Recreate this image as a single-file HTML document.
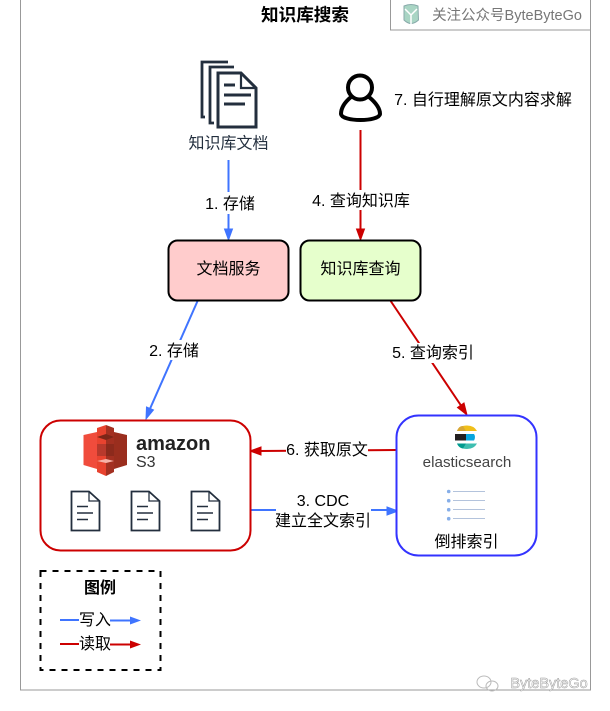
<!DOCTYPE html>
<html><head><meta charset="utf-8"><style>
html,body{margin:0;padding:0;background:#fff;width:610px;height:711px;overflow:hidden}
svg{display:block}
text{font-family:"Liberation Sans","Noto Sans CJK SC",sans-serif;font-size:16px;fill:#000;text-anchor:middle}
</style></head><body>
<svg width="610" height="711" viewBox="0 0 610 711" xmlns="http://www.w3.org/2000/svg">
<rect x="20.5" y="-2" width="570" height="692" fill="#fff" stroke="#999" stroke-width="1"/>
<rect x="390.5" y="-2" width="200" height="32" fill="#fff" stroke="#999" stroke-width="1"/>
<text x="305" y="21" style="font-size:17.6px;font-weight:bold">知识库搜索</text>
<text x="507" y="20" style="font-size:14.5px;fill:#777">关注公众号ByteByteGo</text>
<g>
<path d="M404 6 Q411 3 418 6 L418.500 20 Q411 27 404 20Z" fill="#a9d5c4" stroke="#8aa" stroke-width="1"/>
<path d="M405 9 L411 15 L417 9 M411 15 V24" fill="none" stroke="#fff" stroke-width="1.500"/>
</g>

<!-- doc stack icon -->
<g fill="none" stroke="#232f3e" stroke-width="2.800">
<path d="M228 62 H202 V117 H205"/>
<path d="M234 67 H210 V123 H214"/>
<path d="M218 73 H241 L256 88 V127 H218Z" stroke-width="3"/>
<path d="M241 73 V88 H256" stroke-width="2.200"/>
<path d="M224 85 H235 M224 95 H251 M224 104 H245" stroke-width="3"/>
</g>
<text x="228.500" y="148.500" style="fill:#232f3e">知识库文档</text>

<!-- person -->
<g fill="none" stroke="#000" stroke-width="4">
<circle cx="360" cy="87.500" r="12"/>
<path d="M351 97 C345 102 341 108 341 114 C342 122 379 122 380 114 C380 108 375 102 369 97"/>
</g>
<text x="483" y="105" style="font-size:16px">7. 自行理解原文内容求解</text>

<!-- connectors -->
<g fill="none" stroke-width="2">
<path d="M228.500 160 V230" stroke="#3f74ff"/>
<path d="M360.500 130 V230" stroke="#cc0000"/>
<path d="M198 300 L149 411" stroke="#3f74ff"/>
<path d="M390 300 L462 407" stroke="#cc0000"/>
<path d="M396 450 L259 451" stroke="#cc0000"/>
<path d="M250 510 H388" stroke="#3f74ff"/>
</g>
<path d="M228.500 240 L224.500 229 H232.500Z" fill="#3f74ff" stroke="#3f74ff"/>
<path d="M360.500 240 L356.500 229 H364.500Z" fill="#cc0000" stroke="#cc0000"/>
<path d="M146 419 L146.500 407 L153.500 410Z" fill="#3f74ff" stroke="#3f74ff"/>
<path d="M467 415 L457.500 407.500 L464 403Z" fill="#cc0000" stroke="#cc0000"/>
<path d="M250 451 L261 447 V455Z" fill="#cc0000" stroke="#cc0000"/>
<path d="M398 511 L387 507 V515Z" fill="#3f74ff" stroke="#3f74ff"/>

<!-- boxes -->
<rect x="168.500" y="240.500" width="120" height="60" rx="9" fill="#ffcccc" stroke="#000" stroke-width="2"/>
<text x="228.500" y="274">文档服务</text>
<rect x="300.500" y="240.500" width="120" height="60" rx="9" fill="#e6ffcc" stroke="#000" stroke-width="2"/>
<text x="360.500" y="274">知识库查询</text>

<rect x="40.500" y="420.500" width="210" height="130" rx="20" fill="#fff" stroke="#cc0000" stroke-width="2"/>
<rect x="396.500" y="415.500" width="140" height="140" rx="22" fill="#fff" stroke="#3333ff" stroke-width="2"/>

<!-- S3 logo -->
<g>
<path d="M83.500 435 L97 432 V469 L83.500 465Z" fill="#f04c3c"/>
<path d="M127 435 L114 432 V469 L127 465Z" fill="#9a2e1e"/>
<path d="M97 428 L106 425 V476 L97 472Z" fill="#e8432f"/>
<path d="M114 428 L106 425 V476 L114 472Z" fill="#a33021"/>
<path d="M97 444 H106 V456 H97Z" fill="#b8392c"/>
<path d="M106 444 H114 V456 H106Z" fill="#8c2a1c"/>
<path d="M97 461 L106 463 L114 461 L106 459Z" fill="#f7b3a8"/>
<path d="M97 437 L106 434 L114 437 L106 440Z" fill="#7c2618"/>
</g>
<text x="136" y="450" style="font-size:20px;font-weight:bold;fill:#222;text-anchor:start">amazon</text>
<text x="136" y="467" style="font-size:16px;fill:#333;text-anchor:start">S3</text>

<!-- s3 docs -->
<g fill="none" stroke="#232f3e" stroke-width="1.800">
<g><path d="M71.500 491.500 H89 L99.500 501 V530.500 H71.500Z"/><path d="M89 491.500 V501 H99.500" stroke-width="1.300"/><path d="M77 506.500 H88 M77 513 H93 M77 519.500 H88" stroke-width="1.400"/></g>
<g transform="translate(60 0)"><path d="M71.500 491.500 H89 L99.500 501 V530.500 H71.500Z"/><path d="M89 491.500 V501 H99.500" stroke-width="1.300"/><path d="M77 506.500 H88 M77 513 H93 M77 519.500 H88" stroke-width="1.400"/></g>
<g transform="translate(120 0)"><path d="M71.500 491.500 H89 L99.500 501 V530.500 H71.500Z"/><path d="M89 491.500 V501 H99.500" stroke-width="1.300"/><path d="M77 506.500 H88 M77 513 H93 M77 519.500 H88" stroke-width="1.400"/></g>
</g>

<!-- elastic logo -->
<g>
<path d="M457 431 Q459 425.500 467 425.500 Q474 425.500 477 431Z" fill="#f0bf1a"/>
<path d="M457 431 Q459 425.500 463 426 L466 431Z" fill="#d7a735"/>
<rect x="455" y="434" width="11" height="6.500" fill="#231f20"/>
<path d="M466 434 H474 Q476 437 474 440.500 H466Z" fill="#07a5de"/>
<path d="M457 443.500 H477 Q474 449 467 449 Q459 449 457 443.500Z" fill="#3ebeb0"/>
<path d="M457 443.500 H466 L463 448.500 Q459 448 457 443.500Z" fill="#019b8f"/>
</g>
<text x="467" y="467" style="font-size:15.200px;fill:#444">elasticsearch</text>

<!-- list -->
<g fill="#86aee8">
<circle cx="448.700" cy="491.500" r="1.800"/><circle cx="448.700" cy="500.700" r="1.800"/><circle cx="448.700" cy="509.700" r="1.800"/><circle cx="448.700" cy="518.700" r="1.800"/>
</g>
<path d="M453 491.500 H485 M453 500.500 H485 M453 509.500 H485 M453 518.500 H485" stroke="#b3c3dc" stroke-width="1" fill="none"/>
<text x="466.500" y="547">倒排索引</text>

<!-- labels -->
<rect x="205" y="192" width="50" height="22" fill="#fff"/>
<text x="230" y="209">1. 存储</text>
<rect x="312" y="190" width="99" height="20" fill="#fff"/>
<text x="361" y="206">4. 查询知识库</text>
<rect x="148" y="340" width="52" height="20" fill="#fff"/>
<text x="174" y="356">2. 存储</text>
<rect x="392" y="343" width="82" height="20" fill="#fff"/>
<text x="433" y="358">5. 查询索引</text>
<rect x="286" y="440" width="82" height="20" fill="#fff"/>
<text x="327" y="455">6. 获取原文</text>
<rect x="276" y="492" width="95" height="38" fill="#fff"/>
<text x="323" y="506">3. CDC</text>
<text x="323" y="526">建立全文索引</text>

<!-- legend -->
<rect x="40.500" y="571" width="120" height="99" fill="none" stroke="#000" stroke-width="2" stroke-dasharray="6 6"/>
<text x="100" y="593" style="font-weight:bold">图例</text>
<path d="M60 620 H79" stroke="#3f74ff" stroke-width="2"/>
<path d="M110 620.500 H131" stroke="#3f74ff" stroke-width="2"/>
<path d="M141 620.500 L130 616.500 V624.500Z" fill="#3f74ff"/>
<text x="95" y="625">写入</text>
<path d="M60 644 H79" stroke="#cc0000" stroke-width="2"/>
<path d="M110 644.500 H131" stroke="#cc0000" stroke-width="2"/>
<path d="M141 644.500 L130 640.500 V648.500Z" fill="#cc0000"/>
<text x="95" y="649">读取</text>

<!-- watermark -->
<g fill="none" stroke="#bbb" stroke-width="1">
<ellipse cx="484" cy="682" rx="7" ry="6"/>
<ellipse cx="492" cy="686" rx="6" ry="5"/>
</g>
<text x="549" y="688" style="font-size:14.500px;fill:#fff;stroke:#999;stroke-width:.5">ByteByteGo</text>
</svg>
</body></html>
